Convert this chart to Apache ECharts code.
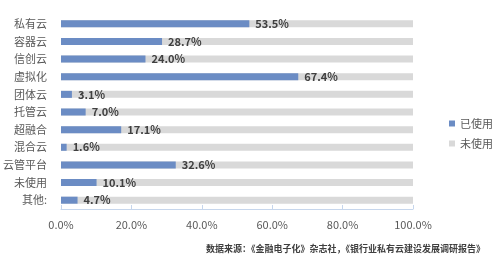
<!DOCTYPE html>
<html><head><meta charset="utf-8">
<script src="https://cdn.jsdelivr.net/npm/echarts@6/dist/echarts.min.js"></script>
<style>html,body{margin:0;padding:0;background:#fff}#c{width:500px;height:274px}</style>
</head><body><div id="c"></div>
<script>
const categories = ['私有云','容器云','信创云','虚拟化','团体云','托管云','超融合','混合云','云管平台','未使用','其他:'];
const usedValues = [53.5, 28.7, 24.0, 67.4, 3.1, 7.0, 17.1, 1.6, 32.6, 10.1, 4.7];
const totalValues = [100,100,100,100,100,100,100,100,100,100,100];
const xTicks = [0, 20, 40, 60, 80, 100];
const sourceText = '数据来源：《金融电子化》杂志社，《银行业私有云建设发展调研报告》';
const FONT = '"Noto Sans CJK SC", "Noto Sans", sans-serif';
const chart = echarts.init(document.getElementById('c'));
chart.setOption({
  animation: false,
  textStyle: {fontFamily: FONT},
  grid: {left: 59.5, right: 87, top: 15, bottom: 65, containLabel: false},
  legend: {
    orient: 'vertical', left: 444, top: 113, itemWidth: 6, itemHeight: 6, itemGap: 9,
    icon: 'rect',
    textStyle: {color: '#595959', fontSize: 11, fontFamily: FONT},
    data: ['已使用', '未使用']
  },
  xAxis: {
    type: 'value', min: xTicks[0], max: xTicks[xTicks.length-1], interval: 20,
    axisLine: {show: true, lineStyle: {color: '#c6d6ec', width: 1}},
    axisTick: {show: true, length: 4, inside: true, lineStyle: {color: '#c6d6ec'}},
    splitLine: {show: false},
    axisLabel: {color: '#595959', fontSize: 11, margin: 10, formatter: v => v.toFixed(1) + '%'}
  },
  yAxis: {
    type: 'category', inverse: true, data: categories,
    axisLine: {show: false}, axisTick: {show: false},
    axisLabel: {color: '#595959', fontSize: 11, margin: 14}
  },
  series: [
    {name: '未使用', type: 'bar', data: totalValues, barWidth: 7, barGap: '-100%',
     itemStyle: {color: '#d9d9d9'}, z: 1, silent: true},
    {name: '已使用', type: 'bar', data: usedValues, barWidth: 7,
     itemStyle: {color: '#6b8cc4'}, z: 2,
     label: {show: true, position: 'right', distance: 6, color: '#404040', fontSize: 11, fontWeight: 'bold',
       formatter: p => p.value.toFixed(1) + '%'}}
  ],
  graphic: [{type: 'text', right: 15, top: 244,
    style: {text: sourceText, fill: '#404040', fontSize: 9, fontWeight: 'bold', fontFamily: FONT}}]
});
</script></body></html>
